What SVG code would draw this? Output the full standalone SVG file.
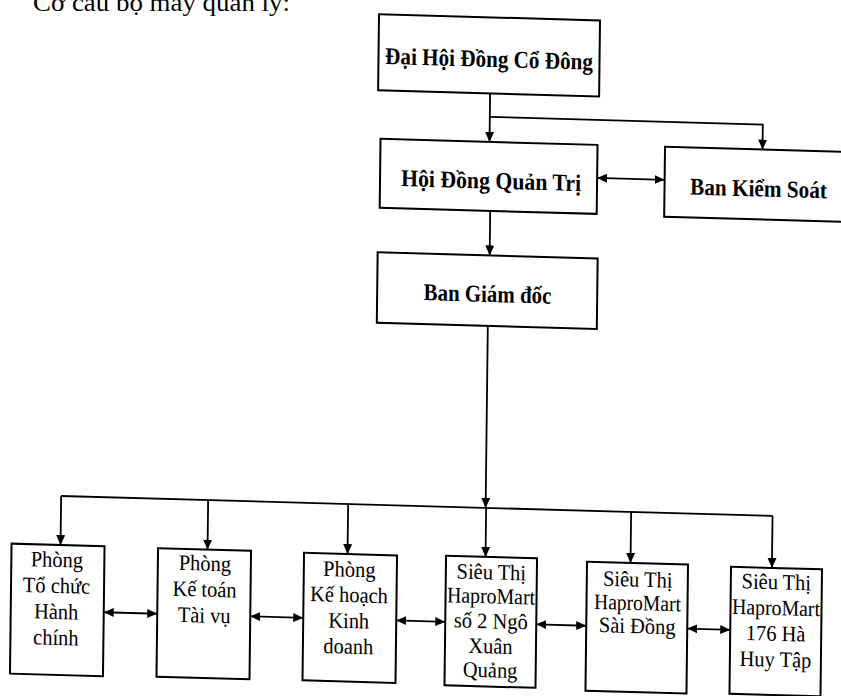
<svg xmlns="http://www.w3.org/2000/svg" width="841" height="696" viewBox="0 0 841 696">
<defs>
<style>
.box{fill:#fff;stroke:#000;stroke-width:2}
.ln{fill:none;stroke:#000;stroke-width:1.8}
.arr{marker-end:url(#ah)}
.dbl{marker-start:url(#ah);marker-end:url(#ah)}
.tb{font-family:"Liberation Serif","Times New Roman",serif;font-weight:bold;font-size:24px;text-anchor:middle;fill:#000}
.tr{font-family:"Liberation Serif","Times New Roman",serif;font-size:22px;text-anchor:middle;fill:#000}
.hd{font-family:"Liberation Serif","Times New Roman",serif;font-size:26px;fill:#000}
</style>
<marker id="ah" viewBox="0 0 10 10" refX="10" refY="5" markerWidth="10" markerHeight="10" markerUnits="userSpaceOnUse" orient="auto-start-reverse">
<path d="M0,0.5L10,5L0,9.5z" fill="#000"/>
</marker>
</defs>
<rect width="841" height="696" fill="#fff"/>
<text class="hd" x="33" y="11" textLength="257" lengthAdjust="spacingAndGlyphs">Cơ cấu bộ máy quản lý:</text>
<g transform="matrix(1 0.028 -0.012 1 4.2 -11.76)">
<g id="connectors">
<path class="ln arr" d="M487,91.5V140"/>
<path class="ln arr" d="M487,115H760V140"/>
<path class="ln dbl" d="M595,173H662.5"/>
<path class="ln arr" d="M488.5,209V253.5"/>
<path class="ln arr" d="M487.5,324V506"/>
<path class="ln" d="M63,506H774.4"/>
<path class="ln arr" d="M63,506V555"/>
<path class="ln arr" d="M210,506V555.5"/>
<path class="ln arr" d="M350,506V556"/>
<path class="ln arr" d="M488,506V555"/>
<path class="ln arr" d="M633,506V557"/>
<path class="ln arr" d="M774.4,506V558"/>
<path class="ln dbl" d="M107,621H160.5"/>
<path class="ln dbl" d="M253.5,621H306.5"/>
<path class="ln dbl" d="M399.5,621H448.5"/>
<path class="ln dbl" d="M539.5,621H589.5"/>
<path class="ln dbl" d="M690.5,621H733.5"/>
</g>
<g id="dai-hoi-dong-co-dong">
<rect class="box" x="375" y="15.5" width="221" height="76"/>
<g transform="translate(485.5 0) scale(0.9 1)"><text class="tb" x="0" y="65" textLength="230.8" lengthAdjust="spacingAndGlyphs">Đại Hội Đồng Cổ Đông</text></g>
</g>
<g id="hoi-dong-quan-tri">
<rect class="box" x="378" y="140" width="217" height="69"/>
<g transform="translate(489 0) scale(0.9 1)"><text class="tb" x="0" y="186.7" textLength="200" lengthAdjust="spacingAndGlyphs">Hội Đồng Quản Trị</text></g>
</g>
<g id="ban-kiem-soat">
<rect class="box" x="662.5" y="140" width="200" height="70"/>
<g transform="translate(756.5 0) scale(0.9 1)"><text class="tb" x="0" y="187" textLength="152" lengthAdjust="spacingAndGlyphs">Ban Kiểm Soát</text></g>
</g>
<g id="ban-giam-doc">
<rect class="box" x="376.5" y="253.5" width="220" height="70.5"/>
<g transform="translate(486.8 0) scale(0.9 1)"><text class="tb" x="0" y="300" textLength="142" lengthAdjust="spacingAndGlyphs">Ban Giám đốc</text></g>
</g>
<g id="phong-to-chuc-hanh-chinh">
<rect class="box" x="14" y="555" width="93" height="130"/>
<g transform="translate(59.5 0) scale(0.93 1)">
<text class="tr" x="0" y="577">Phòng</text>
<text class="tr" x="0" y="603">Tổ chức</text>
<text class="tr" x="0" y="629">Hành</text>
<text class="tr" x="0" y="655">chính</text>
</g>
</g>
<g id="phong-ke-toan-tai-vu">
<rect class="box" x="160.5" y="555.5" width="93" height="128.5"/>
<g transform="translate(207.5 0) scale(0.93 1)">
<text class="tr" x="0" y="576.5">Phòng</text>
<text class="tr" x="0" y="602.5">Kế toán</text>
<text class="tr" x="0" y="628.5">Tài vụ</text>
</g>
</g>
<g id="phong-ke-hoach-kinh-doanh">
<rect class="box" x="306.5" y="556" width="93" height="127.5"/>
<g transform="translate(352 0) scale(0.93 1)">
<text class="tr" x="0" y="578.5">Phòng</text>
<text class="tr" x="0" y="604">Kế hoạch</text>
<text class="tr" x="0" y="630">Kinh</text>
<text class="tr" x="0" y="655.5">doanh</text>
</g>
</g>
<g id="sieu-thi-ngo-xuan-quang">
<rect class="box" x="448.5" y="555" width="91" height="129.5"/>
<g transform="translate(494 0) scale(0.93 1)">
<text class="tr" x="0" y="577.3">Siêu Thị</text>
<text class="tr" x="0" y="601.3" textLength="94.6" lengthAdjust="spacingAndGlyphs">HaproMart</text>
<text class="tr" x="0" y="626.3">số 2 Ngô</text>
<text class="tr" x="0" y="651.3">Xuân</text>
<text class="tr" x="0" y="675.3">Quảng</text>
</g>
</g>
<g id="sieu-thi-sai-dong">
<rect class="box" x="589.5" y="557" width="101" height="129"/>
<g transform="translate(640.5 0) scale(0.93 1)">
<text class="tr" x="0" y="580.5">Siêu Thị</text>
<text class="tr" x="0" y="604" textLength="93.2" lengthAdjust="spacingAndGlyphs">HaproMart</text>
<text class="tr" x="0" y="627">Sài Đồng</text>
</g>
</g>
<g id="sieu-thi-ha-huy-tap">
<rect class="box" x="733.5" y="558" width="91" height="127"/>
<g transform="translate(779 0) scale(0.93 1)">
<text class="tr" x="0" y="579.3">Siêu Thị</text>
<text class="tr" x="0" y="605" textLength="94.6" lengthAdjust="spacingAndGlyphs">HaproMart</text>
<text class="tr" x="0" y="630.7">176 Hà</text>
<text class="tr" x="0" y="656.7">Huy Tập</text>
</g>
</g>
</g>
</svg>
